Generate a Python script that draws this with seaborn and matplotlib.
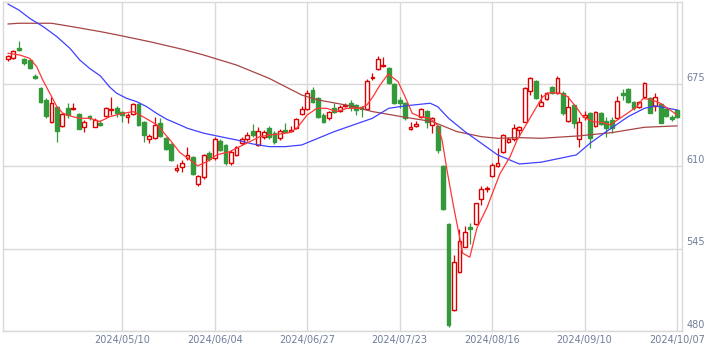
import matplotlib
matplotlib.use("Agg")
import matplotlib.pyplot as plt
import matplotlib.transforms as mtransforms
import pandas as pd
import seaborn as sns

# daily candles, 2024/04/08 .. 2024/10/07 (index = trading day)
opens = [695.0, 696.0, 704.0, 695.0, 694.0, 681.5, 672.0, 662.6, 645.4, 657.0,
         642.0, 656.5, 655.2, 651.5, 641.5, 650.0, 641.5, 644.6, 650.2, 654.5,
         656.0, 653.0, 649.4, 651.5, 659.4, 645.5, 631.8, 632.3, 644.2, 632.3,
         627.8, 607.3, 609.4, 616.5, 617.4, 596.5, 601.5, 620.5, 616.5, 630.5,
         626.6, 612.6, 619.1, 628.4, 631.6, 638.2, 627.1, 633.2, 640.3, 636.8,
         632.3, 638.9, 638.1, 640.2, 651.3, 655.2, 670.5, 663.9, 650.7, 648.1,
         656.0, 653.9, 657.8, 660.0, 658.6, 656.8, 655.2, 680.2, 686.8, 689.4,
         687.6, 675.2, 662.6, 660.0, 639.3, 642.2, 649.4, 653.9, 642.8, 641.9,
         610.4, 564.3, 496.5, 526.8, 546.7, 562.5, 564.7, 584.4, 592.0, 602.5,
         610.6, 621.3, 629.3, 631.6, 638.8, 645.5, 669.5, 677.6, 658.1, 663.1,
         672.6, 668.4, 668.4, 646.3, 658.6, 631.6, 648.9, 652.0, 642.0, 652.0,
         646.3, 646.8, 648.1, 668.4, 671.0, 661.2, 656.8, 665.2, 663.9, 657.9,
         659.4, 655.2, 649.4, 654.7]
highs = [698.0, 702.0, 709.0, 696.0, 695.0, 683.0, 672.5, 664.0, 665.0, 658.0,
         652.0, 660.0, 660.0, 652.0, 647.0, 651.0, 648.5, 646.8, 657.0, 664.7,
         657.5, 654.0, 652.0, 660.0, 660.5, 646.0, 635.5, 649.0, 648.0, 633.0,
         628.5, 612.0, 615.0, 625.7, 618.5, 603.5, 620.0, 622.0, 633.6, 632.0,
         627.5, 623.0, 626.5, 633.6, 637.0, 643.7, 641.0, 638.5, 642.0, 637.8,
         640.0, 644.2, 642.0, 648.5, 658.0, 670.5, 672.5, 665.0, 652.0, 654.0,
         660.0, 658.5, 660.5, 662.5, 659.5, 658.0, 679.2, 684.2, 697.3, 696.8,
         688.5, 676.0, 665.0, 661.0, 645.5, 646.3, 656.0, 655.0, 649.0, 643.0,
         611.5, 565.5, 540.0, 560.5, 563.3, 565.1, 581.5, 594.6, 594.6, 612.6,
         624.4, 636.0, 633.0, 643.6, 642.0, 672.5, 680.5, 678.5, 667.3, 669.0,
         673.5, 681.5, 669.5, 665.7, 659.5, 649.4, 653.5, 653.0, 654.0, 653.0,
         649.5, 649.5, 665.7, 671.5, 672.0, 662.0, 662.0, 677.0, 665.0, 668.0,
         660.5, 656.0, 650.5, 655.5]
lows = [693.0, 695.0, 701.0, 690.0, 687.0, 679.5, 660.0, 648.0, 644.5, 629.5,
        641.0, 648.0, 655.0, 639.5, 637.0, 647.0, 641.0, 642.0, 649.5, 650.7,
        649.0, 645.0, 644.0, 651.0, 642.0, 629.0, 628.5, 631.5, 633.0, 623.0,
        614.5, 605.5, 605.5, 615.5, 603.0, 594.5, 600.5, 614.5, 615.5, 622.0,
        611.5, 611.5, 618.0, 626.8, 630.5, 633.5, 626.0, 632.0, 632.0, 627.5,
        631.0, 637.0, 637.5, 639.5, 650.5, 654.5, 660.0, 648.0, 644.5, 647.0,
        652.5, 653.0, 657.0, 654.0, 650.7, 648.9, 654.5, 678.4, 686.0, 688.5,
        675.0, 659.5, 656.5, 647.0, 638.5, 641.5, 648.5, 640.6, 636.2, 620.4,
        575.5, 483.0, 495.5, 526.0, 546.0, 548.8, 564.0, 579.6, 589.5, 601.5,
        609.5, 620.5, 628.5, 630.5, 634.0, 645.0, 666.5, 663.5, 657.5, 662.5,
        667.0, 667.5, 651.0, 645.5, 640.3, 625.7, 647.0, 624.4, 641.0, 643.0,
        633.0, 636.5, 647.5, 662.6, 660.5, 655.0, 656.0, 664.5, 652.0, 654.0,
        644.0, 649.0, 646.0, 648.5]
closes = [697.0, 701.0, 702.0, 692.0, 688.0, 680.0, 661.0, 650.0, 660.0, 638.3,
          651.7, 650.7, 656.5, 640.0, 645.2, 648.0, 646.8, 642.8, 656.0, 655.2,
          652.0, 651.0, 650.7, 659.4, 643.0, 635.0, 633.8, 642.8, 633.8, 623.9,
          615.2, 608.6, 613.0, 619.1, 604.0, 602.5, 619.1, 615.7, 631.6, 623.0,
          612.6, 621.8, 625.7, 631.6, 635.0, 634.5, 638.4, 637.2, 633.2, 629.0,
          638.4, 637.6, 638.9, 647.3, 655.2, 668.4, 661.2, 648.9, 645.5, 652.9,
          653.3, 657.3, 658.9, 656.8, 654.7, 655.2, 677.6, 681.0, 694.7, 690.2,
          675.8, 660.4, 660.4, 648.1, 640.9, 643.6, 655.2, 645.5, 648.1, 622.9,
          576.2, 484.5, 534.2, 551.3, 558.0, 560.7, 581.0, 592.3, 592.9, 611.0,
          613.0, 635.0, 631.6, 640.2, 640.9, 671.8, 680.0, 664.4, 661.2, 668.4,
          667.9, 680.0, 652.0, 656.8, 644.2, 645.2, 650.7, 632.3, 653.3, 643.6,
          640.3, 640.8, 662.0, 666.5, 661.2, 656.0, 661.2, 675.8, 652.5, 665.2,
          644.6, 649.9, 647.3, 649.4]

# moving averages (x = trading day index)
ma5_x = [0, 2.2, 4, 5.3, 6.4, 7.7, 9, 10.1, 11.9, 13.2, 15.1, 16.9, 18.75, 20.6,
         23, 24.8, 27.4, 29.8, 31.6, 33.5, 34.9, 36.6, 38.4, 40.8, 42.6, 44.5,
         46.3, 48.2, 50, 51.8, 53.1, 55, 56.8, 58.6, 60.5, 62.3, 64.7, 66, 67.1,
         68.4, 69.9, 71.7, 73, 74.3, 75.7, 77.6, 78.9, 79.8, 80.7, 81.8, 82.7,
         83.6, 84.9, 86.2, 88.1, 90.4, 92.3, 93.6, 95.4, 97.2, 98.3, 99.6, 101.5,
         102.9, 104.6, 105.7, 107.5, 109.4, 110.7, 112.5, 114.3, 115.6, 116.7,
         118, 119.9, 121.7, 123]
ma5 = [699.5, 698.1, 695.5, 688.9, 678.4, 667.9, 657.3, 652.1, 649.4, 648.1,
       648.1, 645.5, 649.4, 651.5, 653.4, 649.4, 642.9, 631.0, 621.1, 615.2,
       610.5, 613.9, 619.2, 621.8, 625.7, 629.7, 633.6, 635.0, 635.7, 636.8,
       640.2, 650.7, 656.0, 656.0, 653.4, 656.0, 656.0, 658.7, 665.2, 674.4,
       683.1, 677.1, 665.2, 652.1, 649.4, 648.1, 642.9, 631.0, 607.3, 581.0,
       561.2, 541.5, 538.3, 561.2, 578.0, 604.0, 617.8, 631.0, 644.2, 657.3,
       665.2, 668.4, 667.9, 665.2, 656.0, 649.4, 645.5, 644.7, 642.9, 648.1,
       653.4, 657.3, 663.6, 663.2, 660.0, 654.7, 650.7]
ma25_x = [0, 2, 4, 6.5, 9, 11.4, 13.2, 15, 17, 18.75, 20, 21.8, 23.7, 25.5, 27.3,
          29.2, 31.6, 33, 36, 39, 42, 45, 48, 51, 54, 57, 60, 63, 67, 70, 73,
          77.6, 79, 81, 84, 87, 90, 94, 98, 101.5, 104.5, 107, 110, 114, 117,
          119, 123]
ma25 = [738.4, 733.7, 727.1, 720.5, 712.6, 703.4, 694.2, 687.6, 681.6, 672.6,
        667.9, 663.9, 661.2, 657.3, 652.1, 647.3, 642.9, 640.2, 636.3, 633.6,
        631.0, 627.8, 625.7, 625.7, 627.0, 632.3, 637.6, 642.1, 648.1, 656.0,
        657.9, 660.0, 657.3, 648.1, 637.6, 628.4, 619.2, 612.0, 613.4, 616.5,
        619.2, 628.4, 637.6, 649.4, 656.0, 657.9, 654.7]
ma75_x = [0, 2, 8, 11, 17, 21, 26, 32, 36, 42, 48, 54, 57, 63, 67, 73, 78,
          82.5, 87, 90, 94, 98, 105, 111, 117, 123]
ma75 = [722.6, 723.2, 723.2, 721.1, 716.6, 713.2, 708.7, 702.7, 698.1, 690.2,
        679.7, 666.5, 662.6, 657.9, 653.4, 648.9, 645.5, 637.6, 633.6, 632.3,
        632.8, 632.3, 634.2, 636.8, 641.0, 642.1]

tick_pos = [21, 38, 55, 72, 89, 106, 123]
tick_labels = ["2024/05/10", "2024/06/04", "2024/06/27", "2024/07/23",
               "2024/08/16", "2024/09/10", "2024/10/07"]
y_ticks = [480, 545, 610, 675]

UP = "#dd0000"
DOWN = "#33993a"
GRID = "#d9d9d9"
LABEL = "#6f7f99"

sns.set_style("white")
plt.rcParams['font.family'] = ['DejaVu Sans']

df = pd.DataFrame({"o": opens, "h": highs, "l": lows, "c": closes})
df["i"] = range(len(df))
df["up"] = df["c"] >= df["o"]
df["bottom"] = df[["o", "c"]].min(axis=1)
df["height"] = (df["c"] - df["o"]).abs().clip(lower=0.6)

fig = plt.figure(figsize=(7.22, 3.51), dpi=100)
ax = fig.add_axes([3 / 722, 20 / 351, 679 / 722, 329 / 351])

for up, part in df.groupby("up"):
    col = UP if up else DOWN
    ax.vlines(part["i"], part["l"], part["h"], color=col, lw=0.9, zorder=2)
    ax.bar(part["i"], part["height"], bottom=part["bottom"], width=0.7,
           facecolor="white" if up else col, edgecolor=col, linewidth=1,
           zorder=3)

sns.lineplot(x=ma75_x, y=ma75, ax=ax, color="#a84444", lw=0.9, zorder=4)
sns.lineplot(x=ma25_x, y=ma25, ax=ax, color="#4040ff", lw=0.9, zorder=4)
sns.lineplot(x=ma5_x, y=ma5, ax=ax, color="#ff3535", lw=0.9, zorder=5)

ax.set_xlim(-0.9, 123.9)
ax.set_ylim(480, 740)
ax.set_xticks(tick_pos)
ax.set_xticklabels(tick_labels)
ax.set_yticks(y_ticks)
ax.yaxis.tick_right()
ax.grid(True, color=GRID, lw=1, zorder=0)
ax.set_axisbelow(True)
ax.tick_params(axis="both", length=0, labelsize=7, labelcolor=LABEL)
ax.tick_params(axis="x", pad=3)
ax.tick_params(axis="y", pad=3)
off = mtransforms.ScaledTranslation(0, 1 / 72, fig.dpi_scale_trans)
for lab in ax.get_yticklabels():
    lab.set_va("bottom")
    lab.set_transform(lab.get_transform() + off)
for s in ax.spines.values():
    s.set_color(GRID)
    s.set_linewidth(1)
ax.set_xlabel("")
ax.set_ylabel("")

fig.savefig("out.png", dpi=100)
plt.close(fig)
